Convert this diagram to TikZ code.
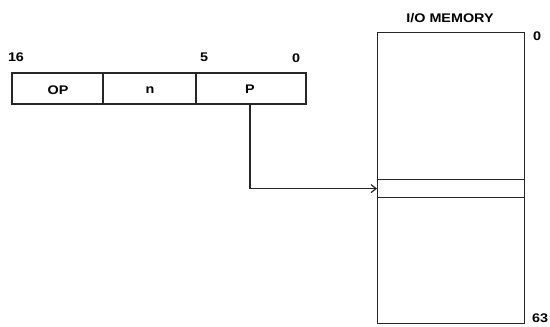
\documentclass[tikz,border=0pt]{standalone}
\usepackage{fontspec}
\setmainfont{Liberation Sans}
\usetikzlibrary{arrows.meta}
\begin{document}
\begin{tikzpicture}[x=1pt,y=-1pt,
  lbl/.style={font=\fontsize{12.5}{12.5}\selectfont\bfseries, inner sep=0pt},
  ln/.style={line width=1.2pt, draw=black!85}]
\useasboundingbox (0,0) rectangle (550,327);
% instruction word
\node[ln, draw, minimum width=91pt, minimum height=31pt, inner sep=0pt] (op) at (57.5,88.5) {};
\node[ln, draw, minimum width=93pt, minimum height=31pt, inner sep=0pt] (n) at (149.5,88.5) {};
\node[ln, draw, minimum width=110pt, minimum height=31pt, inner sep=0pt] (p) at (251,88.5) {};
\node[lbl] (opt) at (58,90) {\scalebox{1.15}[1]{OP}};
\node[lbl] (nt) at (150,90) {\scalebox{1.15}[1]{n}};
\node[lbl] (pt) at (250,89) {\scalebox{1.15}[1]{P}};
\node[lbl] (b16) at (16,57) {\scalebox{1.15}[1]{16}};
\node[lbl] (b5) at (204,57) {\scalebox{1.15}[1]{5}};
\node[lbl] (b0) at (296,58) {\scalebox{1.15}[1]{0}};
% memory
\node[ln, draw, minimum width=147pt, minimum height=147pt, inner sep=0pt, anchor=north west] (mtop) at (377,32) {};
\node[ln, draw, minimum width=147pt, minimum height=18pt, inner sep=0pt, anchor=north west] (slot) at (377,179) {};
\node[ln, draw, minimum width=147pt, minimum height=126pt, inner sep=0pt, anchor=north west] (mbot) at (377,197) {};
\node[lbl] (title) at (450,18) {\scalebox{1.15}[1]{I/O MEMORY}};
\node[lbl] (m0) at (537,36) {\scalebox{1.15}[1]{0}};
\node[lbl] (m63) at (540,318) {\scalebox{1.15}[1]{63}};
% connector
\coordinate (pin) at (250,104);
\draw[ln, -{Straight Barb[length=5pt,width=8pt]}] (pin) |- (slot.west);
\end{tikzpicture}
\end{document}
